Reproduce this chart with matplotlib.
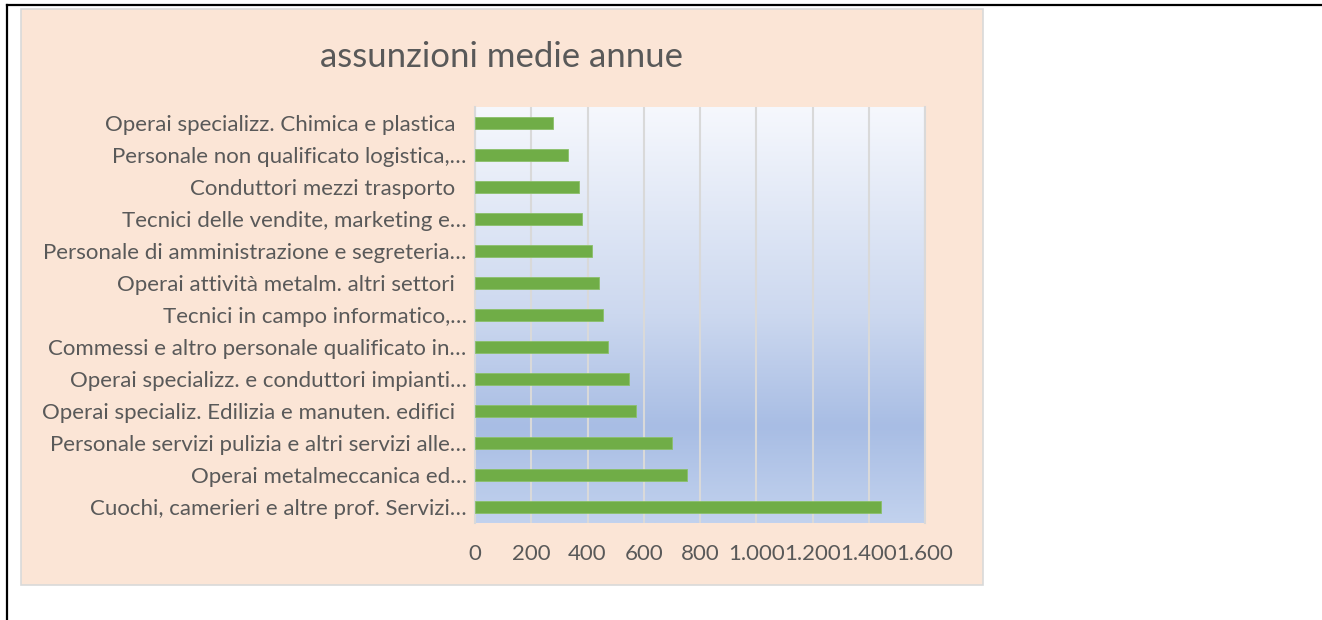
import numpy as np
import matplotlib.pyplot as plt
from matplotlib.patches import Rectangle
from matplotlib.lines import Line2D
from matplotlib.colors import LinearSegmentedColormap
from matplotlib.ticker import FuncFormatter

# categories listed bottom -> top (as barh draws them)
categories = [
    "Cuochi, camerieri e altre prof. Servizi…",
    "Operai metalmeccanica ed…",
    "Personale servizi pulizia e altri servizi alle…",
    "Operai specializ. Edilizia e manuten. edifici  ",
    "Operai specializz. e conduttori impianti…",
    "Commessi e altro personale qualificato in…",
    "Tecnici in campo informatico,…",
    "Operai attività metalm. altri settori  ",
    "Personale di amministrazione e segreteria…",
    "Tecnici delle vendite, marketing e…",
    "Conduttori mezzi trasporto  ",
    "Personale non qualificato logistica,…",
    "Operai specializz. Chimica e plastica  ",
]
assunzioni = [1442, 754, 699, 573, 549, 474, 456, 440, 417, 382, 368, 329, 279]
xticks = [0, 200, 400, 600, 800, 1000, 1200, 1400, 1600]

plt.rcParams['font.family'] = ['Lato', 'DejaVu Sans']
txt = '#595959'
peach = '#FBE5D6'

fig = plt.figure(figsize=(13.22, 6.2), dpi=100)
fig.patch.set_facecolor('white')

# chart box
fig.add_artist(Rectangle((0.0159, 0.0565), 0.7277, 0.929, transform=fig.transFigure,
                         facecolor=peach, edgecolor='#D9D9D9', linewidth=1.2, zorder=0))
# page border lines
fig.add_artist(Line2D([0.0053, 1.0], [0.992, 0.992], color='black', linewidth=1.6))
fig.add_artist(Line2D([0.0053, 0.0053], [0.0, 0.992], color='black', linewidth=1.6))

ax = fig.add_axes([0.3593, 0.1565, 0.3405, 0.6710])
ax.set_facecolor('none')

# plot-area gradient
grad = LinearSegmentedColormap.from_list('g', [(0.0, '#F6F8FD'), (0.5, '#CCD8EF'),
                                               (0.77, '#A8BDE4'), (1.0, '#C2D2EE')])
ax.imshow(np.linspace(0, 1, 256).reshape(-1, 1), cmap=grad, aspect='auto',
          extent=[0, 1, 0, 1], transform=ax.transAxes, zorder=0)

y = np.arange(len(categories))
ax.barh(y, assunzioni, height=0.35, color='#70AD47', edgecolor='#8BC06A',
        linewidth=0.6, zorder=3)

ax.set_xlim(0, 1600)
ax.set_ylim(-0.5, len(categories) - 0.5)
ax.set_xticks(xticks)
ax.xaxis.set_major_formatter(FuncFormatter(lambda v, p: f"{int(v):,}".replace(',', '.')))
ax.grid(axis='x', color='#D9D9D9', linewidth=1.5, zorder=1)
ax.set_axisbelow(True)
ax.set_yticks(y)
ax.set_yticklabels(categories)
ax.tick_params(axis='both', length=0, colors=txt, labelsize=16)
ax.tick_params(axis='y', pad=6)
ax.tick_params(axis='x', pad=15)

for s in ['top', 'bottom']:
    ax.spines[s].set_visible(False)
for s in ['left', 'right']:
    ax.spines[s].set_color('#D9D9D9')
    ax.spines[s].set_linewidth(1.5)

fig.text(0.3797, 0.908, 'assunzioni medie annue', ha='center', va='center',
         fontsize=25, color=txt, family=['Lato', 'DejaVu Sans'])

plt.savefig('out.png', dpi=100, facecolor=fig.get_facecolor())
